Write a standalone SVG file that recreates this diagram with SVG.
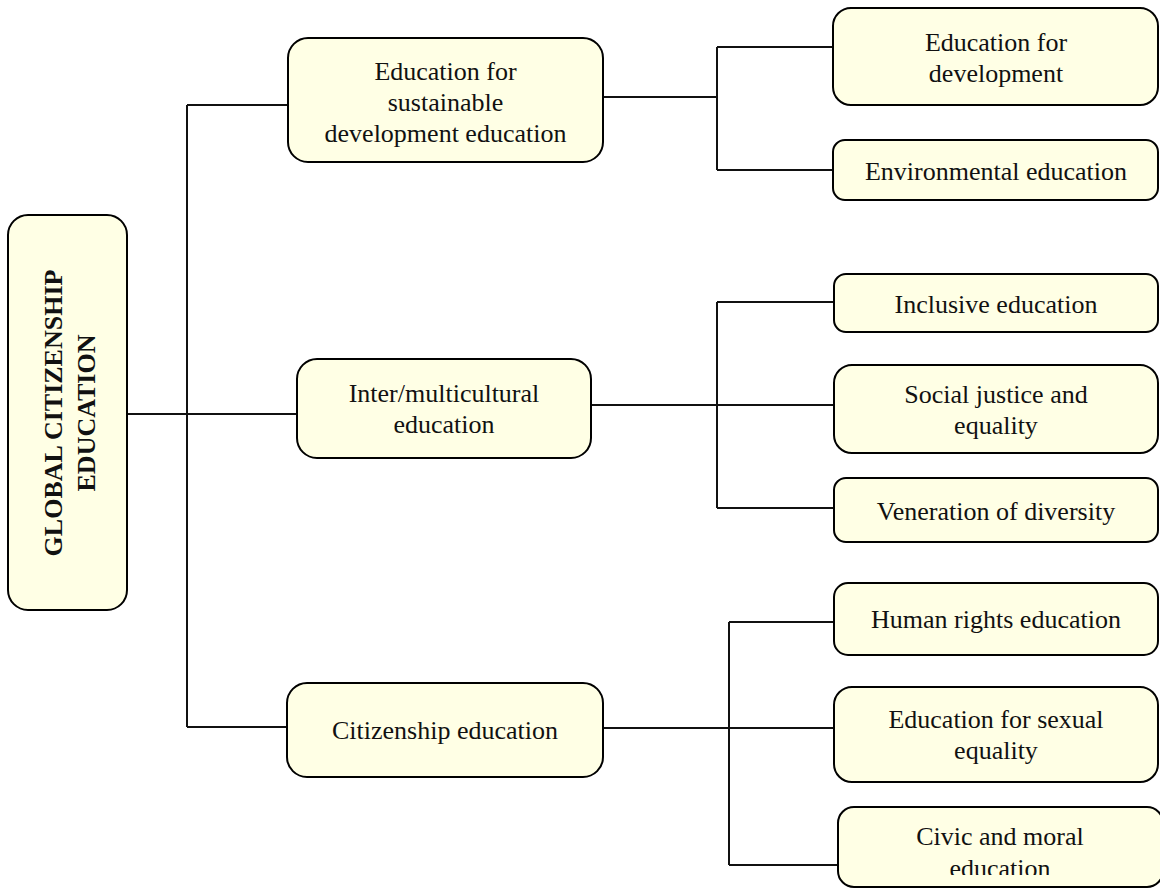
<svg xmlns="http://www.w3.org/2000/svg" width="1160" height="888" viewBox="0 0 1160 888">
  <style>
    .box { fill: #FFFFE5; stroke: #000; stroke-width: 2; }
    .lbl { font-family: "Liberation Serif", "Times New Roman", serif; font-size: 26px; fill: #111; text-anchor: middle; }
    .root { font-weight: bold; }
    .wire { fill: none; stroke: #111; stroke-width: 2; }
  </style>
  <defs>
    <clipPath id="clipCivic">
      <rect x="838" y="807" width="330" height="68"/>
    </clipPath>
  </defs>
  <rect width="1160" height="888" fill="#fff"/>

  <!-- connectors -->
  <g id="connectors" class="wire">
    <path d="M127,414 H297"/>
    <path d="M187,105 V727"/>
    <path d="M187,105 H288"/>
    <path d="M187,727 H287"/>
    <!-- sustainable development branch -->
    <path d="M603,97 H717"/>
    <path d="M717,47 V170"/>
    <path d="M717,47 H833"/>
    <path d="M717,170 H833"/>
    <!-- inter/multicultural branch -->
    <path d="M591,405 H834"/>
    <path d="M717,302 V508"/>
    <path d="M717,302 H834"/>
    <path d="M717,508 H834"/>
    <!-- citizenship branch -->
    <path d="M603,728 H834"/>
    <path d="M729,622 V865"/>
    <path d="M729,622 H834"/>
    <path d="M729,865 H838"/>
  </g>

  <g id="root">
    <rect class="box" x="8" y="215" width="119" height="395" rx="20"/>
    <text class="lbl root" transform="translate(62,413) rotate(-90)">GLOBAL CITIZENSHIP</text>
    <text class="lbl root" transform="translate(95,413) rotate(-90)">EDUCATION</text>
  </g>

  <g id="esd">
    <rect class="box" x="288" y="38" width="315" height="124" rx="20"/>
    <text class="lbl" x="445.5" y="80">Education for</text>
    <text class="lbl" x="445.5" y="111">sustainable</text>
    <text class="lbl" x="445.5" y="142">development education</text>
  </g>

  <g id="edu-development">
    <rect class="box" x="833" y="8" width="325" height="97" rx="18"/>
    <text class="lbl" x="996" y="51">Education for</text>
    <text class="lbl" x="996" y="82">development</text>
  </g>

  <g id="environmental">
    <rect class="box" x="833" y="140" width="325" height="60" rx="12"/>
    <text class="lbl" x="996" y="180">Environmental education</text>
  </g>

  <g id="intercultural">
    <rect class="box" x="297" y="359" width="294" height="99" rx="20"/>
    <text class="lbl" x="444" y="402">Inter/multicultural</text>
    <text class="lbl" x="444" y="433">education</text>
  </g>

  <g id="inclusive">
    <rect class="box" x="834" y="274" width="324" height="58" rx="12"/>
    <text class="lbl" x="996" y="313">Inclusive education</text>
  </g>

  <g id="social-justice">
    <rect class="box" x="834" y="365" width="324" height="88" rx="18"/>
    <text class="lbl" x="996" y="403">Social justice and</text>
    <text class="lbl" x="996" y="434">equality</text>
  </g>

  <g id="diversity">
    <rect class="box" x="834" y="478" width="324" height="64" rx="12"/>
    <text class="lbl" x="996" y="520">Veneration of diversity</text>
  </g>

  <g id="citizenship">
    <rect class="box" x="287" y="683" width="316" height="94" rx="20"/>
    <text class="lbl" x="445" y="739">Citizenship education</text>
  </g>

  <g id="human-rights">
    <rect class="box" x="834" y="583" width="324" height="72" rx="14"/>
    <text class="lbl" x="996" y="628">Human rights education</text>
  </g>

  <g id="sexual-equality">
    <rect class="box" x="834" y="687" width="324" height="95" rx="18"/>
    <text class="lbl" x="996" y="728">Education for sexual</text>
    <text class="lbl" x="996" y="759">equality</text>
  </g>

  <g id="civic-moral">
    <rect class="box" x="838" y="807" width="325" height="80" rx="16"/>
    <text class="lbl" x="1000" y="845">Civic and moral</text>
    <text class="lbl" x="1000" y="877" clip-path="url(#clipCivic)">education</text>
  </g>
</svg>
